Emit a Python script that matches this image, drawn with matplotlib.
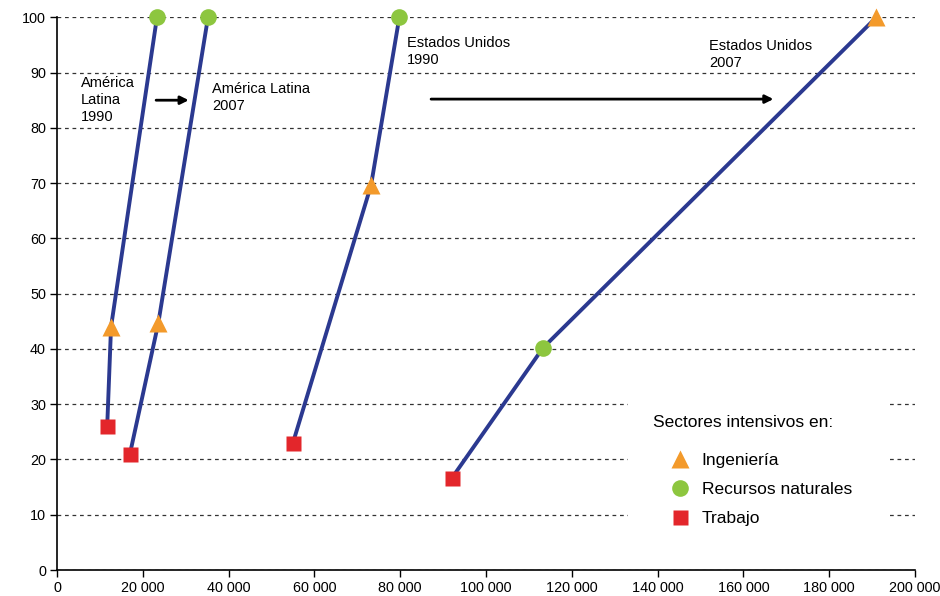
import numpy as np
import matplotlib
matplotlib.use('Agg')
from matplotlib import pyplot as plt
from matplotlib.patches import Rectangle
from matplotlib.ticker import FuncFormatter
from matplotlib.lines import Line2D

plt.rcParams['font.family'] = ['Liberation Sans', 'DejaVu Sans']

# series: (x, y) for trabajo, ingenieria, recursos naturales
series = ['AL 1990', 'AL 2007', 'EU 1990', 'EU 2007']
trabajo_x = [11700, 17000, 55000, 92100]
trabajo_y = [26, 21, 23, 16.7]
ingenieria_x = [12600, 23600, 73200, 191000]
ingenieria_y = [44, 44.6, 69.6, 100]
recursos_x = [23300, 35200, 79800, 113300]
recursos_y = [100, 100, 100, 40.2]

labels_txt = ['América\nLatina\n1990', 'América Latina\n2007',
              'Estados Unidos\n1990', 'Estados Unidos\n2007']
labels_pos = [(5600, 89.4), (36100, 88.3), (81600, 96.6), (152000, 96.1)]

c_line = '#2B3990'
c_ing = '#F39A2B'
c_rec = '#8DC63F'
c_tra = '#E3262B'

fig = plt.figure(figsize=(9.4, 5.96), dpi=100)
ax = fig.add_axes([57/940, 26/596, 858/940, 552.7/596])

for i in range(len(series)):
    pts = [(trabajo_x[i], trabajo_y[i]), (ingenieria_x[i], ingenieria_y[i]),
           (recursos_x[i], recursos_y[i])]
    pts.sort(key=lambda p: p[1])
    ax.plot([p[0] for p in pts], [p[1] for p in pts], color=c_line, lw=2.8,
            zorder=3, solid_capstyle='butt')

ax.plot(trabajo_x, trabajo_y, 's', color=c_tra, ms=10.8, mec='none', zorder=4, clip_on=False)
ax.plot(ingenieria_x, ingenieria_y, '^', color=c_ing, ms=12.5, mec='none', zorder=4, clip_on=False)
ax.plot(recursos_x, recursos_y, 'o', color=c_rec, ms=12, mec='none', zorder=4, clip_on=False)

for t, (x, y) in zip(labels_txt, labels_pos):
    ax.text(x, y, t, fontsize=10.5, va='top', ha='left', linespacing=1.3, zorder=5)

# arrows
ax.annotate('', xy=(30700, 85), xytext=(23100, 85),
            arrowprops=dict(arrowstyle='-|>', color='black', lw=2, mutation_scale=12,
                            shrinkA=0, shrinkB=0))
ax.annotate('', xy=(167000, 85.2), xytext=(87200, 85.2),
            arrowprops=dict(arrowstyle='-|>', color='black', lw=2, mutation_scale=12,
                            shrinkA=0, shrinkB=0))

ax.set_xlim(0, 200000)
ax.set_ylim(0, 100)
ax.set_xticks(np.arange(0, 200001, 20000))
ax.set_yticks(np.arange(0, 101, 10))
ax.xaxis.set_major_formatter(FuncFormatter(lambda v, p: f'{int(v):,}'.replace(',', ' ')))
ax.tick_params(labelsize=10.4, length=5, width=1, color='black', pad=3)
ax.spines['top'].set_visible(False)
ax.spines['right'].set_visible(False)
ax.spines['left'].set_linewidth(1.2)
ax.spines['bottom'].set_linewidth(1.2)
ax.set_axisbelow(True)
ax.yaxis.grid(True, linestyle=(0, (3, 3)), color='#333333', lw=0.9)

# white block behind legend
ax.add_patch(Rectangle((0.666, 0.045), 0.302, 0.28, transform=ax.transAxes,
                       facecolor='white', edgecolor='none', zorder=1))
ax.text(0.695, 0.266, 'Sectores intensivos en:', transform=ax.transAxes,
        fontsize=12.5, va='center', ha='left', zorder=5)
handles = [Line2D([], [], marker='^', ls='none', color=c_ing, ms=12.5, mec='none'),
           Line2D([], [], marker='o', ls='none', color=c_rec, ms=12, mec='none'),
           Line2D([], [], marker='s', ls='none', color=c_tra, ms=10.8, mec='none')]
ax.legend(handles, ['Ingeniería', 'Recursos naturales', 'Trabajo'],
          loc='upper left', bbox_to_anchor=(0.716, 0.212), frameon=False,
          fontsize=12.5, handlelength=1.0, handletextpad=0.75, labelspacing=0.8,
          borderpad=0, borderaxespad=0)

fig.savefig('out.png', dpi=100)
